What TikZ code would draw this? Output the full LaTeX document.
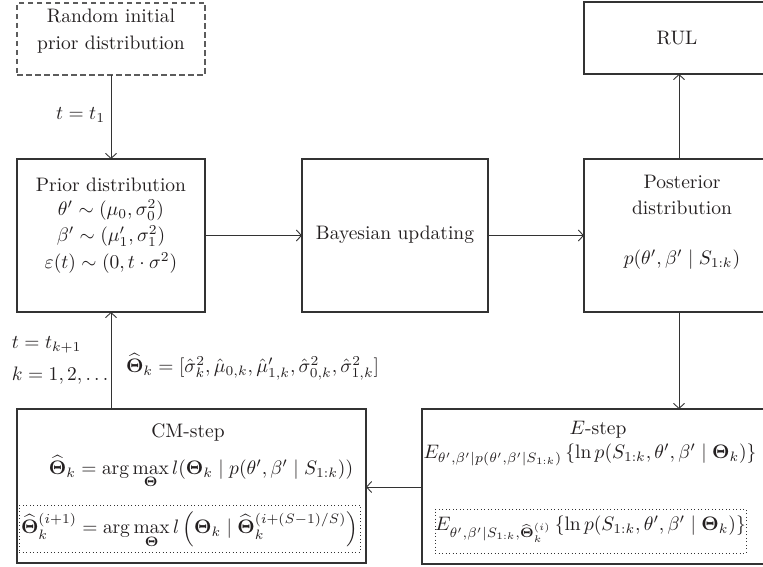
\documentclass[tikz,border=0pt]{standalone}
\usepackage{amsmath}
\usetikzlibrary{arrows.meta}
\definecolor{ln}{HTML}{333333}
\definecolor{tx}{HTML}{231F20}
\begin{document}
\begin{tikzpicture}[x=1pt,y=-1pt,
  every node/.style={text=tx, inner sep=0pt, outer sep=0pt},
  t/.style={scale=1.95},
  box/.style={draw=ln, line width=1.2pt, rectangle},
  dbox/.style={draw=ln!80, line width=1.2pt, rectangle, dash pattern=on 5.5pt off 3.5pt},
  dotbox/.style={draw=ln, line width=0.9pt, rectangle, dash pattern=on 0.9pt off 2.6pt},
  conn/.style={draw=ln, line width=0.9pt, -{Straight Barb[length=5pt,width=11pt,line width=0.9pt]}}]
\useasboundingbox (0,0) rectangle (763,567);
% boxes
\node[dbox, minimum width=188pt, minimum height=72pt] (rand) at (111,39) {};
\node[box, minimum width=188pt, minimum height=153pt] (prior) at (111,235.5) {};
\node[box, minimum width=186pt, minimum height=153pt] (bayes) at (395,235.5) {};
\node[box, minimum width=192pt, minimum height=153pt] (post) at (680,235.5) {};
\node[box, minimum width=192pt, minimum height=72pt] (rul) at (680,38) {};
\node[box, minimum width=349pt, minimum height=154pt] (cm) at (191.5,486) {};
\node[box, minimum width=354pt, minimum height=155pt] (es) at (599,486.5) {};
\node[dotbox, minimum width=341pt, minimum height=47pt] (cmd) at (189.5,528.5) {};
\node[dotbox, minimum width=311pt, minimum height=44pt] (esd) at (590.5,531) {};
% texts
\node[t] (randa) at (111,16) {Random initial};
\node[t] (randb) at (111,45) {prior distribution};
\node[t, anchor=east] (t1) at (105,115) {$t = t_1$};
\node[t] (pra) at (111,185) {Prior distribution};
\node[t] (prb) at (111,210) {$\theta' \sim (\mu_0, \sigma_0^2)$};
\node[t] (prc) at (111,236) {$\beta' \sim (\mu_1', \sigma_1^2)$};
\node[t] (prd) at (111,263) {$\varepsilon(t) \sim (0, t\cdot\sigma^2)$};
\node[t] (bay) at (395,235) {Bayesian updating};
\node[t] (poa) at (682,182) {Posterior};
\node[t] (pob) at (682,208) {distribution};
\node[t] (poc) at (682,260) {$p(\theta', \beta' \mid S_{1:k})$};
\node[t] (rult) at (677,38) {RUL};
\node[t, anchor=west] (tk) at (12,345) {$t = t_{k+1}$};
\node[t, anchor=west] (kk) at (12,376) {$k = 1, 2, \ldots$};
\node[t, anchor=west] (th) at (126,367) {$\widehat{\mathbf{\Theta}}_k = [\hat{\sigma}_k^2, \hat{\mu}_{0,k}, \hat{\mu}_{1,k}', \hat{\sigma}_{0,k}^2, \hat{\sigma}_{1,k}^2]$};
\node[t] (cmt) at (188,433) {CM-step};
\node[t] (cm1) at (201,472) {$\widehat{\mathbf{\Theta}}_k = \arg\max\limits_{\mathbf{\Theta}} l(\mathbf{\Theta}_k \mid p(\theta', \beta' \mid S_{1:k}))$};
\node[t] (cm2) at (189.5,530) {$\widehat{\mathbf{\Theta}}_k^{(i+1)} = \arg\max\limits_{\mathbf{\Theta}} l\left(\mathbf{\Theta}_k \mid \widehat{\mathbf{\Theta}}_k^{(i+(S-1)/S)}\right)$};
\node[t] (est) at (598,430) {$E$-step};
\node[t] (es1) at (590,455) {$E_{\theta',\beta' \mid p(\theta',\beta' \mid S_{1:k})}\left\{\ln p(S_{1:k}, \theta', \beta' \mid \mathbf{\Theta}_k)\right\}$};
\node[t] (es2) at (590.5,529) {$E_{\theta',\beta' \mid S_{1:k}, \widehat{\mathbf{\Theta}}_k^{(i)}}\left\{\ln p(S_{1:k}, \theta', \beta' \mid \mathbf{\Theta}_k)\right\}$};
% connectors
\draw[conn] (rand.south) -- (prior.north);
\draw[conn] (prior.east) -- (bayes.west);
\draw[conn] (bayes.east) -- (bayes.east -| post.west);
\draw[conn] (post.north -| 679,0) -- (rul.south -| 679,0);
\draw[conn] (post.south -| 679,0) -- (es.north -| 679,0);
\draw[conn] (es.west |- 0,487) -- (cm.east |- 0,487);
\draw[conn] (cm.north -| prior.south) -- (prior.south);
\end{tikzpicture}
\end{document}
